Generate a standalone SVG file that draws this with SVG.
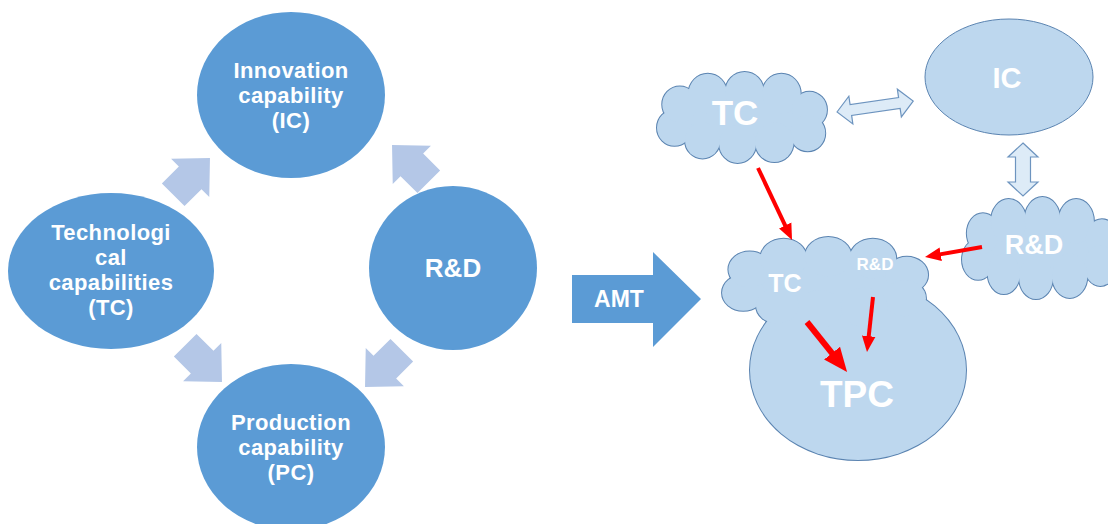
<svg xmlns="http://www.w3.org/2000/svg" xmlns:xlink="http://www.w3.org/1999/xlink" width="1108" height="524" viewBox="0 0 1108 524">
<style>
.circ{fill:#5B9BD5}
.lt{fill:#B4C7E7}
.wt{fill:#FFFFFF;font-family:"Liberation Sans",Arial,sans-serif;font-weight:bold;text-anchor:middle}
.lb{font-size:22px;letter-spacing:0.4px}
.cl{fill:#BDD7EE;stroke:#5B84B1;stroke-width:2}
.clf{fill:#BDD7EE;stroke:none}
.dbl{fill:#DDEBF7;stroke:#6D94BF;stroke-width:1.2}
.red{stroke:#FF0000;fill:none;marker-end:url(#ah)}
</style>
<defs>
<path id="blk" d="M0,-16 L24,-16 L24,-27 L52,0 L24,27 L24,16 L0,16 Z"/>
<g id="cloud">
<ellipse cx="100" cy="52" rx="80" ry="30" vector-effect="non-scaling-stroke"/>
<circle cx="24" cy="62" r="20" vector-effect="non-scaling-stroke"/>
<circle cx="30" cy="36" r="20" vector-effect="non-scaling-stroke"/>
<circle cx="62" cy="24" r="22" vector-effect="non-scaling-stroke"/>
<circle cx="104" cy="22" r="22" vector-effect="non-scaling-stroke"/>
<circle cx="146" cy="24" r="22" vector-effect="non-scaling-stroke"/>
<circle cx="178" cy="42" r="20" vector-effect="non-scaling-stroke"/>
<circle cx="176" cy="68" r="20" vector-effect="non-scaling-stroke"/>
<circle cx="138" cy="78" r="22" vector-effect="non-scaling-stroke"/>
<circle cx="96" cy="80" r="21" vector-effect="non-scaling-stroke"/>
<circle cx="56" cy="76" r="20" vector-effect="non-scaling-stroke"/>
</g>
<marker id="ah" viewBox="0 -2 4 4" refX="1" refY="0" markerWidth="4" markerHeight="4" markerUnits="strokeWidth" orient="auto">
<path d="M0,-1.7 L4,0 L0,1.7 Z" fill="#FF0000"/>
</marker>
</defs>

<g id="connectors">
<use xlink:href="#blk" class="lt" transform="translate(173.2,194.8) rotate(-45)"/>
<use xlink:href="#blk" class="lt" transform="translate(428.8,181.8) rotate(-135)"/>
<use xlink:href="#blk" class="lt" transform="translate(185.2,345.2) rotate(45)"/>
<use xlink:href="#blk" class="lt" transform="translate(401.8,350.2) rotate(135)"/>
<path class="dbl" transform="translate(837,112) rotate(-8.2)" d="M0,0 L14,-14 L14,-5.5 L63,-5.5 L63,-14 L77,0 L63,14 L63,5.5 L14,5.5 L14,14 Z"/>
<path class="dbl" d="M1023,143 L1038,157 L1030.5,157 L1030.5,182 L1038,182 L1023,196 L1008,182 L1015.5,182 L1015.5,157 L1008,157 Z"/>
</g>

<g id="node-ic">
<ellipse class="circ" cx="291" cy="95" rx="94" ry="83"/>
<text class="wt lb" x="291" y="78">Innovation</text>
<text class="wt lb" x="291" y="103">capability</text>
<text class="wt lb" x="291" y="128">(IC)</text>
</g>
<g id="node-tc">
<ellipse class="circ" cx="111" cy="271" rx="103" ry="78"/>
<text class="wt lb" x="111" y="240">Technologi</text>
<text class="wt lb" x="111" y="265">cal</text>
<text class="wt lb" x="111" y="290">capabilities</text>
<text class="wt lb" x="111" y="315">(TC)</text>
</g>
<g id="node-rd">
<ellipse class="circ" cx="453" cy="268" rx="84" ry="82"/>
<text class="wt" font-size="26" x="453" y="277">R&amp;D</text>
</g>
<g id="node-pc">
<ellipse class="circ" cx="291" cy="447" rx="94" ry="83"/>
<text class="wt lb" x="291" y="430">Production</text>
<text class="wt lb" x="291" y="455">capability</text>
<text class="wt lb" x="291" y="480">(PC)</text>
</g>

<g id="node-amt">
<path class="circ" d="M572,275 L653,275 L653,252 L701,299 L653,347 L653,323 L572,323 Z"/>
<text class="wt" font-size="23" x="619" y="307">AMT</text>
</g>

<g id="node-tc2">
<use xlink:href="#cloud" class="cl" transform="translate(653.5,72) scale(0.876,0.9)"/>
<use xlink:href="#cloud" class="clf" transform="translate(653.5,72) scale(0.876,0.9)"/>
<text class="wt" font-size="35" x="735" y="125">TC</text>
</g>
<g id="node-ic2">
<ellipse cx="1009" cy="77" rx="84" ry="58" fill="#BDD7EE" stroke="#5B84B1" stroke-width="1"/>
<text class="wt" font-size="29" x="1007" y="88">IC</text>
</g>
<g id="node-rd2">
<use xlink:href="#cloud" class="cl" transform="translate(958.8,197) scale(0.804,1.01)"/>
<use xlink:href="#cloud" class="clf" transform="translate(958.8,197) scale(0.804,1.01)"/>
<text class="wt" font-size="27" x="1034" y="254">R&amp;D</text>
</g>
<g id="node-tpc">
<ellipse class="cl" cx="858" cy="370" rx="108" ry="90"/>
<use xlink:href="#cloud" class="cl" transform="translate(717.8,237) scale(1.062,0.9)"/>
<ellipse class="clf" cx="858" cy="370" rx="108" ry="90"/>
<use xlink:href="#cloud" class="clf" transform="translate(717.8,237) scale(1.062,0.9)"/>
<text class="wt" font-size="25" x="785" y="292">TC</text>
<text class="wt" font-size="17" x="875" y="270">R&amp;D</text>
<text class="wt" font-size="37" x="857" y="407">TPC</text>
</g>

<g id="red-connectors">
<line class="red" stroke-width="4" x1="758" y1="168" x2="786.9" y2="229.1"/>
<line class="red" stroke-width="4" x1="982" y1="247" x2="936.8" y2="254.9"/>
<line class="red" stroke-width="6" x1="807" y1="322" x2="835.8" y2="357.9"/>
<line class="red" stroke-width="4" x1="873" y1="297" x2="868.3" y2="340.1"/>
</g>
</svg>
